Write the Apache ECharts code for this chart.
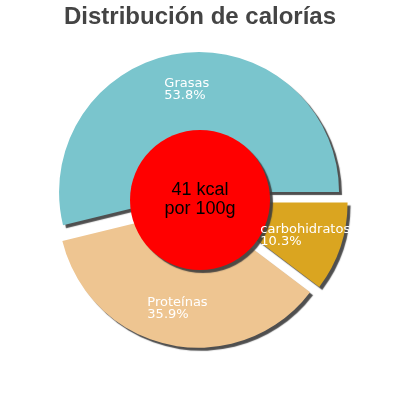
<!DOCTYPE html>
<html>
<head>
<meta charset="utf-8">
<script src="https://cdn.jsdelivr.net/npm/echarts@6/dist/echarts.min.js"></script>
<style>
  html, body { margin: 0; padding: 0; background: #fff; }
  #main { width: 400px; height: 400px; }
</style>
</head>
<body>
<div id="main"></div>
<script>
var categories = ['Grasas', 'Proteínas', 'carbohidratos'];
var percents = [53.8, 35.9, 10.3];
var colors = ['#7AC5CD', '#EEC591', '#DAA520'];
var centerText = '41 kcal\npor 100g';
var titleText = 'Distribución de calorías';

var sliceData = [];
for (var i = 0; i < categories.length; i++) {
    sliceData.push({
        name: categories[i],
        value: percents[i],
        selected: true,
        itemStyle: { color: colors[i] }
    });
}

var shadow = {
    shadowColor: 'rgba(60,60,60,0.9)',
    shadowBlur: 1,
    shadowOffsetX: 3,
    shadowOffsetY: 3
};

var myChart = echarts.init(document.getElementById('main'));
myChart.setOption({
    animation: false,
    title: {
        text: titleText,
        left: 'center',
        top: 5,
        padding: 0,
        textStyle: {
            fontFamily: 'Liberation Sans',
            fontWeight: 'bold',
            fontSize: 24,
            color: '#444444'
        }
    },
    series: [
        {
            // slices with shadow
            type: 'pie',
            center: [200, 200],
            radius: [0, 140],
            startAngle: 0,
            clockwise: false,
            selectedMode: 'multiple',
            selectedOffset: 8,
            silent: true,
            emphasis: { disabled: true },
            itemStyle: shadow,
            label: { show: false },
            labelLine: { show: false },
            data: sliceData
        },
        {
            // red centre
            type: 'pie',
            center: [200, 200],
            radius: [0, 70],
            silent: true,
            emphasis: { disabled: true },
            itemStyle: Object.assign({ color: '#FF0000' }, shadow),
            label: {
                show: true,
                position: 'center',
                formatter: centerText,
                fontFamily: 'Liberation Sans',
                fontSize: 18,
                lineHeight: 19,
                color: '#000'
            },
            labelLine: { show: false },
            data: [{ name: 'kcal', value: 1 }]
        },
        {
            // labels only
            type: 'pie',
            center: [200, 200],
            radius: [60, 140],
            startAngle: 0,
            clockwise: false,
            selectedMode: 'multiple',
            selectedOffset: 8,
            silent: true,
            emphasis: { disabled: true },
            itemStyle: { color: 'rgba(0,0,0,0)' },
            label: {
                show: true,
                position: 'inside',
                formatter: function (p) {
                    return '{a|' + p.name + '}\n{a|' + p.value.toFixed(1) + '%}';
                },
                rich: {
                    a: {
                        align: 'left',
                        fontFamily: 'DejaVu Sans',
                        fontSize: 13,
                        lineHeight: 12,
                        color: '#fff'
                    }
                }
            },
            labelLine: { show: false },
            data: sliceData.map(function (d) {
                return { name: d.name, value: d.value, selected: true };
            })
        }
    ]
});
</script>
</body>
</html>
